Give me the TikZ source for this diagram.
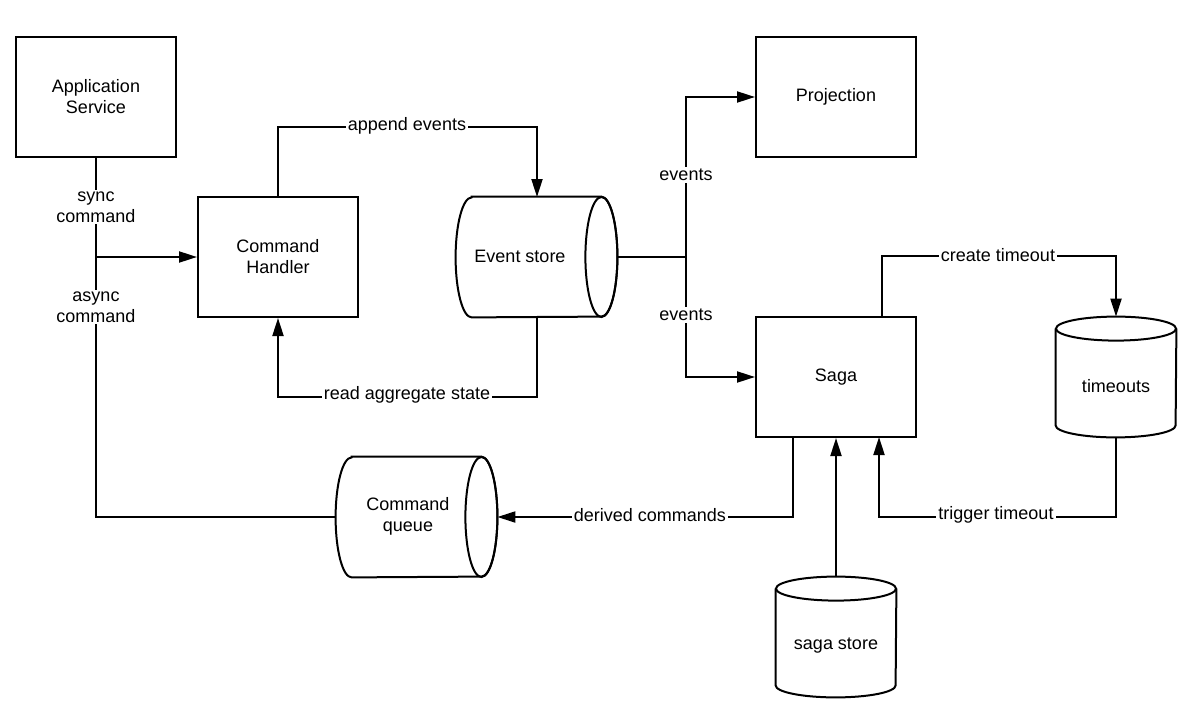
\documentclass[tikz,border=0pt]{standalone}
\usepackage{fontspec}
\setmainfont{Liberation Sans}
\usetikzlibrary{arrows.meta,calc}
\begin{document}
\begin{tikzpicture}[x=0.5pt,y=-0.5pt,
  every node/.style={font=\fontsize{9}{10.5}\selectfont, align=center},
  box/.style={draw, line width=1pt, minimum width=80pt, minimum height=60pt, inner sep=0pt},
  hold/.style={minimum width=#1, minimum height=60pt, inner sep=0pt},
  conn/.style={line width=1pt},
  arr/.style={line width=1pt, -{Triangle[length=9pt,width=5.5pt]}},
  lbl/.style={fill=white, inner sep=1pt},
  shp/.style={line width=1pt}
]
\useasboundingbox[fill=white] (0,0) rectangle (1200,728);

% rectangles
\node[box] (as) at (96,97) {Application\\Service};
\node[box] (ch) at (278,257) {Command\\Handler};
\node[box] (pr) at (836,97) {Projection};
\node[box] (sa) at (836,377) {Saga};

% horizontal cylinders
\node[hold=80.5pt] (es) at (536.5,257) {};
\node[hold=80.5pt] (cq) at (416.5,517) {};
\foreach \c in {es,cq}{
  \draw[shp] ($(\c.north west)+(16,0)$) -- ($(\c.north east)+(-16,0)$)
     arc[start angle=90,end angle=-90,x radius=8pt,y radius=30pt]
     -- ($(\c.south west)+(16,0)$)
     arc[start angle=270,end angle=90,x radius=8pt,y radius=30pt] -- cycle;
  \draw[shp] ($(\c.east)+(-16,0)$) ellipse[x radius=8pt,y radius=30pt];
}
\node at (520,256) {Event store};
\node at (408,516) {Command\\queue};

% vertical cylinders
\node[hold=60pt] (to) at (1116,377) {};
\node[hold=60pt] (ss) at (836,637) {};
\foreach \c in {to,ss}{
  \draw[shp] ($(\c.north west)+(0,12)$) -- ($(\c.south west)+(0,-12)$)
     arc[start angle=180,end angle=360,x radius=30pt,y radius=6pt]
     -- ($(\c.north east)+(0,12)$);
  \draw[shp] ($(\c.north)+(0,12)$) ellipse[x radius=30pt,y radius=6pt];
}
\node at (1116,386) {timeouts};
\node at (836,646) {saga store};

% connectors
\coordinate (j1) at (96,257);
\coordinate (j2) at (96,517);
\draw[conn] (as.south) -- (j2) -- (cq.west);
\draw[arr] (j1) -- (ch.west);
\node[lbl] at (96,207) {sync\\command};
\node[lbl] at (96,307) {async\\command};

\draw[arr] (ch.north) -- (278,127) -- (537,127) -- (537,197);
\node[lbl] at (407,126) {append events};

\draw[arr] (537,317) -- (537,397) -- (278,397) -- (ch.south);
\node[lbl] at (407,395) {read aggregate state};

\coordinate (j3) at (686,257);
\draw[conn] (es.east) -- (j3);
\draw[arr] (j3) -- (686,97) -- (pr.west);
\draw[arr] (j3) -- (686,377) -- (sa.west);
\node[lbl] at (686,175) {events};
\node[lbl] at (686,315) {events};

\draw[arr] (882,317) -- (882,256) -- (1116,256) -- (to.north);
\node[lbl] at (998,255) {create timeout};

\draw[arr] (to.south) -- (1116,517) -- (879,517) -- (879,437);
\node[lbl] at (996,515) {trigger timeout};

\draw[arr] (ss.north) -- (sa.south);

\draw[arr] (793,437) -- (793,517) -- (cq.east);
\node[lbl] at (650,515) {derived commands};
\end{tikzpicture}
\end{document}
